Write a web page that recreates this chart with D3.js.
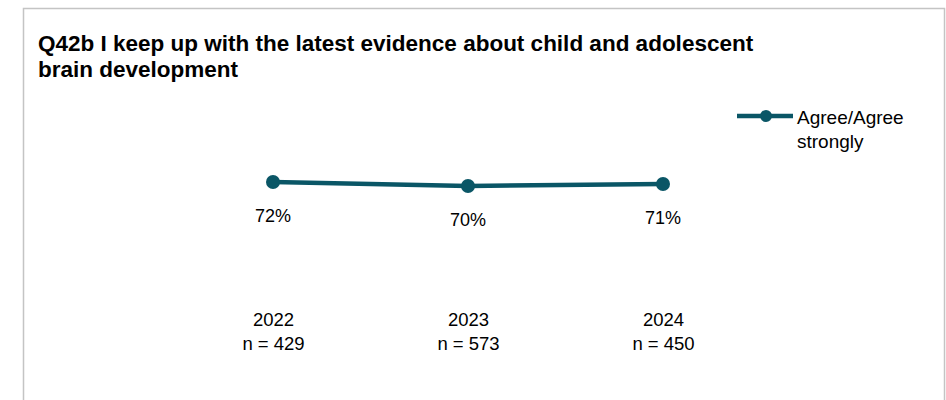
<!DOCTYPE html>
<html>
<head>
<meta charset="utf-8">
<script src="https://cdn.jsdelivr.net/npm/d3@7"></script>
<style>
  html, body { margin: 0; padding: 0; background: #ffffff; }
  svg { display: block; }
  text { font-family: "Liberation Sans", Arial, sans-serif; fill: #000; }
</style>
</head>
<body>
<svg id="chart" width="946" height="400"></svg>
<script>
const titleLines = ["Q42b I keep up with the latest evidence about child and adolescent", "brain development"];
const years = ["2022", "2023", "2024"];
const sampleSizes = ["n = 429", "n = 573", "n = 450"];
const seriesName = "Agree/Agree strongly";
const values = [72, 70, 71];

const color = "#0a5666";
const svg = d3.select("#chart");

// frame
svg.append("rect")
  .attr("x", 23.5).attr("y", 8.5)
  .attr("width", 921).attr("height", 400)
  .attr("fill", "#fff")
  .attr("stroke", "#c4c4c4").attr("stroke-width", 1.5);

// title
const title = svg.append("text")
  .style("font-weight", "bold").style("font-size", "22.5px");
titleLines.forEach((l, i) => {
  title.append("tspan").attr("x", 38).attr("y", 51 + i * 26).text(l);
});

const x = d3.scalePoint().domain(years).range([273, 663]);
const y = d3.scaleLinear().domain([0, 100]).range([326, 126]);

const data = years.map((yr, i) => ({ yr, v: values[i], n: sampleSizes[i] }));

svg.append("path")
  .datum(data)
  .attr("fill", "none")
  .attr("stroke", color)
  .attr("stroke-width", 4.5)
  .attr("d", d3.line().x(d => x(d.yr)).y(d => y(d.v)));

svg.selectAll("circle.pt").data(data).enter().append("circle")
  .attr("class", "pt")
  .attr("cx", d => x(d.yr)).attr("cy", d => y(d.v))
  .attr("r", 7).attr("fill", color);

svg.selectAll("text.lbl").data(data).enter().append("text")
  .attr("class", "lbl")
  .attr("x", d => x(d.yr)).attr("y", d => y(d.v) + 40)
  .attr("text-anchor", "middle").style("font-size", "18px")
  .text(d => d.v + "%");

// category axis (no line/ticks)
const axisG = svg.append("g").attr("transform", "translate(0,300)")
  .call(d3.axisBottom(x).tickSize(0).tickPadding(0));
axisG.select(".domain").remove();
axisG.selectAll(".tick text").remove();
axisG.selectAll(".tick").each(function(d, i) {
  const t = d3.select(this).append("text")
    .attr("text-anchor", "middle").style("font-size", "18.5px")
    .style("fill", "#000");
  t.append("tspan").attr("x", 0).attr("y", 26).text(d);
  t.append("tspan").attr("x", 0).attr("y", 50).text(sampleSizes[i]);
});

// legend
const lg = svg.append("g");
lg.append("line").attr("x1", 737).attr("x2", 793).attr("y1", 116).attr("y2", 116)
  .attr("stroke", color).attr("stroke-width", 4.5);
lg.append("circle").attr("cx", 766).attr("cy", 116).attr("r", 6).attr("fill", color);
const lt = lg.append("text").style("font-size", "19px");
lt.append("tspan").attr("x", 797).attr("y", 124).text("Agree/Agree");
lt.append("tspan").attr("x", 797).attr("y", 148).text("strongly");
</script>
</body>
</html>
